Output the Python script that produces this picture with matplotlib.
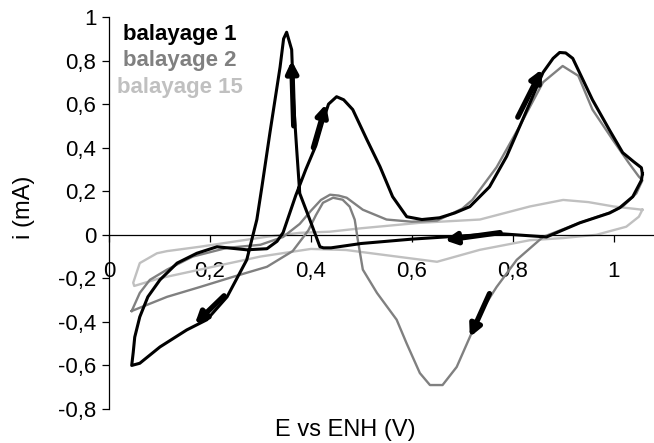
import matplotlib
matplotlib.use("Agg")
import matplotlib.pyplot as plt

plt.rcParams['font.family'] = ['Liberation Sans', 'DejaVu Sans']

# balayage 1 (noir) - part du sommet positif, balayage vers les potentiels bas
scan1_E = [1.057, 1.055, 1.038, 1.012, 0.992, 0.933, 0.867, 0.775, 0.70, 0.60, 0.50, 0.44,
           0.425, 0.418, 0.398, 0.378, 0.372, 0.366, 0.362, 0.352, 0.346, 0.339, 0.319,
           0.303, 0.293, 0.273, 0.234, 0.194, 0.154, 0.101, 0.061, 0.045, 0.048, 0.051,
           0.061, 0.077, 0.101, 0.135, 0.174, 0.214, 0.273, 0.313, 0.333, 0.345, 0.37,
           0.39, 0.41, 0.425, 0.435, 0.451, 0.465, 0.483, 0.511, 0.537, 0.562, 0.590,
           0.62, 0.655, 0.685, 0.715, 0.754, 0.788, 0.82, 0.86, 0.88, 0.893, 0.905,
           0.919, 0.958, 0.992, 1.018, 1.04, 1.055, 1.057]
scan1_i = [0.28, 0.25, 0.175, 0.124, 0.10, 0.055, -0.01, 0.005, -0.005, -0.02, -0.04, -0.06,
           -0.06, -0.055, 0.069, 0.19, 0.39, 0.60, 0.85, 0.93, 0.90, 0.77, 0.47,
           0.22, 0.07, -0.115, -0.285, -0.39, -0.437, -0.515, -0.59, -0.60, -0.54, -0.47,
           -0.377, -0.285, -0.207, -0.13, -0.085, -0.055, -0.069, -0.064, -0.03, 0.01, 0.18,
           0.30, 0.41, 0.53, 0.60, 0.634, 0.62, 0.575, 0.437, 0.313, 0.175, 0.083,
           0.07, 0.078, 0.10, 0.129, 0.22, 0.36, 0.53, 0.745, 0.81, 0.837, 0.835,
           0.81, 0.62, 0.48, 0.377, 0.335, 0.308, 0.28]

# balayage 2 (gris) - part du sommet négatif
scan2_E = [0.045, 0.061, 0.081, 0.115, 0.166, 0.234, 0.30, 0.345, 0.378, 0.40, 0.42, 0.438,
           0.455, 0.471, 0.503, 0.55, 0.60, 0.65, 0.70, 0.72, 0.768, 0.814, 0.86, 0.899,
           0.93, 0.958, 0.998, 1.03, 1.05, 1.057, 1.045, 1.018, 0.99, 0.933, 0.86, 0.808,
           0.768, 0.735, 0.715, 0.689, 0.661, 0.636, 0.616, 0.59, 0.570, 0.531, 0.503,
           0.493, 0.487, 0.477, 0.463, 0.444, 0.424, 0.41, 0.395, 0.364, 0.313, 0.246,
           0.18, 0.115, 0.045]
scan2_i = [-0.35, -0.267, -0.207, -0.16, -0.10, -0.06, -0.046, -0.01, 0.05, 0.11, 0.16, 0.184,
           0.18, 0.17, 0.115, 0.07, 0.06, 0.065, 0.12, 0.16, 0.31, 0.50, 0.70, 0.775,
           0.73, 0.575, 0.437, 0.33, 0.267, 0.25, 0.19, 0.13, 0.10, 0.055, -0.01, -0.115,
           -0.24, -0.36, -0.47, -0.607, -0.69, -0.69, -0.635, -0.50, -0.39, -0.267, -0.16,
           -0.023, 0.069, 0.129, 0.161, 0.17, 0.147, 0.09, 0.02, -0.075, -0.147, -0.193,
           -0.24, -0.285, -0.35]

# balayage 15 (gris clair)
scan15_E = [1.057, 1.0, 0.95, 0.90, 0.834, 0.735, 0.616, 0.50, 0.437, 0.378, 0.313, 0.246,
            0.18, 0.115, 0.095, 0.061, 0.048, 0.05, 0.10, 0.2, 0.3, 0.4, 0.47, 0.57, 0.65,
            0.735, 0.834, 0.9, 0.966, 1.025, 1.05, 1.057]
scan15_i = [0.115, 0.13, 0.15, 0.16, 0.13, 0.07, 0.055, 0.03, 0.014, 0.009, -0.009, -0.032,
            -0.055, -0.075, -0.085, -0.13, -0.22, -0.235, -0.20, -0.15, -0.10, -0.065, -0.07,
            -0.10, -0.124, -0.069, -0.025, -0.015, 0.0, 0.037, 0.083, 0.115]

# flèches de sens de balayage : (queue, pointe)
arrows = [((0.366, 0.50), (0.362, 0.80)),
          ((0.405, 0.40), (0.430, 0.60)),
          ((0.81, 0.54), (0.858, 0.76)),
          ((0.775, 0.01), (0.665, -0.025)),
          ((0.754, -0.27), (0.715, -0.47)),
          ((0.228, -0.28), (0.17, -0.41))]

labels = ["balayage 1", "balayage 2", "balayage 15"]
colors = ["#000000", "#808080", "#c0c0c0"]

x_ticks = [0, 0.2, 0.4, 0.6, 0.8, 1.0]
y_ticks = [-0.8, -0.6, -0.4, -0.2, 0, 0.2, 0.4, 0.6, 0.8, 1.0]


def fmt(v):
    s = f"{v:g}"
    return s.replace(".", ",")


fig = plt.figure(figsize=(6.54, 4.43), dpi=100)
ax = fig.add_axes([109 / 654, 1 - 409 / 443, 545 / 654, 392 / 443])

ax.plot(scan15_E, scan15_i, color=colors[2], lw=1.7, zorder=2)
ax.plot(scan2_E, scan2_i, color=colors[1], lw=1.7, zorder=3)
ax.plot(scan1_E, scan1_i, color=colors[0], lw=2.2, zorder=4)

for tail, head in arrows:
    ax.annotate('', xy=head, xytext=tail,
                arrowprops=dict(arrowstyle='-|>', lw=3.8, color='k',
                                mutation_scale=17, shrinkA=0, shrinkB=0),
                zorder=5)

ax.set_xlim(0, 1.08)
ax.set_ylim(-0.8, 1.0)
ax.spines['left'].set_position(('data', 0))
ax.spines['bottom'].set_position(('data', 0))
ax.spines['top'].set_visible(False)
ax.spines['right'].set_visible(False)
for s in ['left', 'bottom']:
    ax.spines[s].set_linewidth(0.9)

ax.set_xticks(x_ticks)
ax.set_xticklabels([fmt(v) for v in x_ticks])
ax.set_yticks(y_ticks)
ax.set_yticklabels([fmt(v) for v in y_ticks])
ax.tick_params(axis='x', direction='out', length=5, width=0.9, pad=14, labelsize=16)
ax.tick_params(axis='y', direction='out', length=5, width=0.9, pad=4, labelsize=16)

for k, (lab, c) in enumerate(zip(labels, colors)):
    ax.text(0.14, 0.92 - k * 0.122, lab, color=c, fontsize=16, fontweight='bold',
            ha='center', va='center')

fig.text(345 / 654, 1 - 430 / 443, "E vs ENH (V)", fontsize=17, ha='center', va='center')
fig.text(24 / 654, 1 - 207 / 443, "i (mA)", fontsize=17, ha='center', va='center',
         rotation=90)

fig.savefig("out.png", dpi=100)
